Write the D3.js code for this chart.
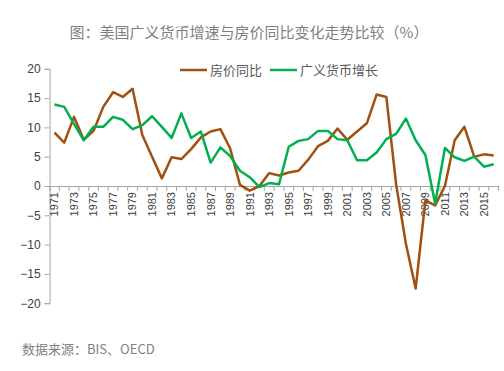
<!DOCTYPE html>
<html><head><meta charset="utf-8">
<script src="https://cdn.jsdelivr.net/npm/d3@7"></script>
<style>body{margin:0;background:#fff}svg{display:block}</style>
</head><body>
<svg id="c" width="504" height="371"></svg>
<script>
const years = d3.range(1971, 2017).map(String);
const housePrice = [9.1,7.4,11.8,7.9,9.4,13.5,16.0,15.2,16.6,8.7,5.0,1.3,4.9,4.6,6.3,8.3,9.3,9.7,6.4,0.2,-0.8,0.0,2.2,1.8,2.3,2.6,4.5,6.8,7.7,9.8,7.9,9.3,10.7,15.6,15.2,0.3,-9.8,-17.5,-2.5,-3.3,0.0,7.8,10.1,5.0,5.4,5.2];
const money = [13.9,13.5,10.6,7.8,10.1,10.1,11.8,11.3,9.7,10.4,11.9,10.1,8.2,12.4,8.2,9.3,4.0,6.6,5.1,2.6,1.5,-0.2,0.5,0.3,6.7,7.7,8.0,9.4,9.4,8.0,7.8,4.4,4.4,5.7,8.0,8.9,11.5,7.8,5.3,-3.0,6.5,4.9,4.3,5.0,3.3,3.7];
const yTicks = [20,15,10,5,0,-5,-10,-15,-20];
const seriesNames = ["房价同比","广义货币增长"];
const colors = ["#A0500F","#00B050"];
const titleText = "图：美国广义货币增速与房价同比变化走势比较（%）";
const sourceText = "数据来源：BIS、OECD";

const svg = d3.select("#c");
const x = d3.scaleBand().domain(years).range([49.6, 498.6]);
const y = d3.scaleLinear().domain([-20, 20]).range([303.2, 68.8]);
const font = "'Noto Sans CJK SC', 'Liberation Sans', sans-serif";

svg.append("text").attr("x", 249).attr("y", 38).attr("text-anchor","middle")
  .attr("font-family", font).attr("font-size", 15).attr("fill","#7f7f7f").text(titleText);

// y axis
const ya = svg.append("g").attr("transform","translate(49.6,0)")
  .call(d3.axisLeft(y).tickValues(yTicks).tickSize(5).tickPadding(4));
ya.select(".domain").attr("stroke","#a6a6a6");
ya.selectAll(".tick line").attr("stroke","#a6a6a6");
ya.selectAll("text").attr("font-family","'Liberation Sans', Arial, sans-serif").attr("font-size",12).attr("fill","#404040");

// x axis
const xa = svg.append("g").attr("transform",`translate(0,${y(0)})`)
  .call(d3.axisBottom(x).tickSize(0).tickFormat(d => (+d % 2 === 1) ? d : ""));
xa.select(".domain").attr("stroke","#a6a6a6");
xa.selectAll(".tick text").attr("font-family","'Liberation Sans', Arial, sans-serif").attr("font-size",11).attr("fill","#404040")
  .attr("transform","rotate(-90)").attr("text-anchor","end").attr("x",-6).attr("y",0).attr("dy","0.35em");
// ticks at band boundaries
const bounds = years.map(d => x(d)).concat([x.range()[1]]);
svg.append("g").selectAll("line").data(bounds).join("line")
  .attr("x1", d=>d).attr("x2", d=>d).attr("y1", y(0)).attr("y2", y(0)+5).attr("stroke","#a6a6a6");

const line = d3.line().x((d,i)=>x(years[i]) + x.bandwidth()/2).y(d=>y(d));
[housePrice, money].forEach((s, k) => {
  svg.append("path").datum(s).attr("d", line).attr("fill","none")
    .attr("stroke", colors[k]).attr("stroke-width", 2.5).attr("stroke-linejoin","round");
});

// legend
const legend = [{x1:180,x2:207,tx:210},{x1:270,x2:297,tx:300}];
legend.forEach((l,k)=>{
  svg.append("line").attr("x1",l.x1).attr("x2",l.x2).attr("y1",70).attr("y2",70)
    .attr("stroke",colors[k]).attr("stroke-width",2.5);
  svg.append("text").attr("x",l.tx).attr("y",75).attr("font-family",font).attr("font-size",13)
    .attr("fill","#595959").text(seriesNames[k]);
});

svg.append("text").attr("x",22).attr("y",354).attr("font-family",font).attr("font-size",13)
  .attr("fill","#7f7f7f").text(sourceText);
</script>
</body></html>
